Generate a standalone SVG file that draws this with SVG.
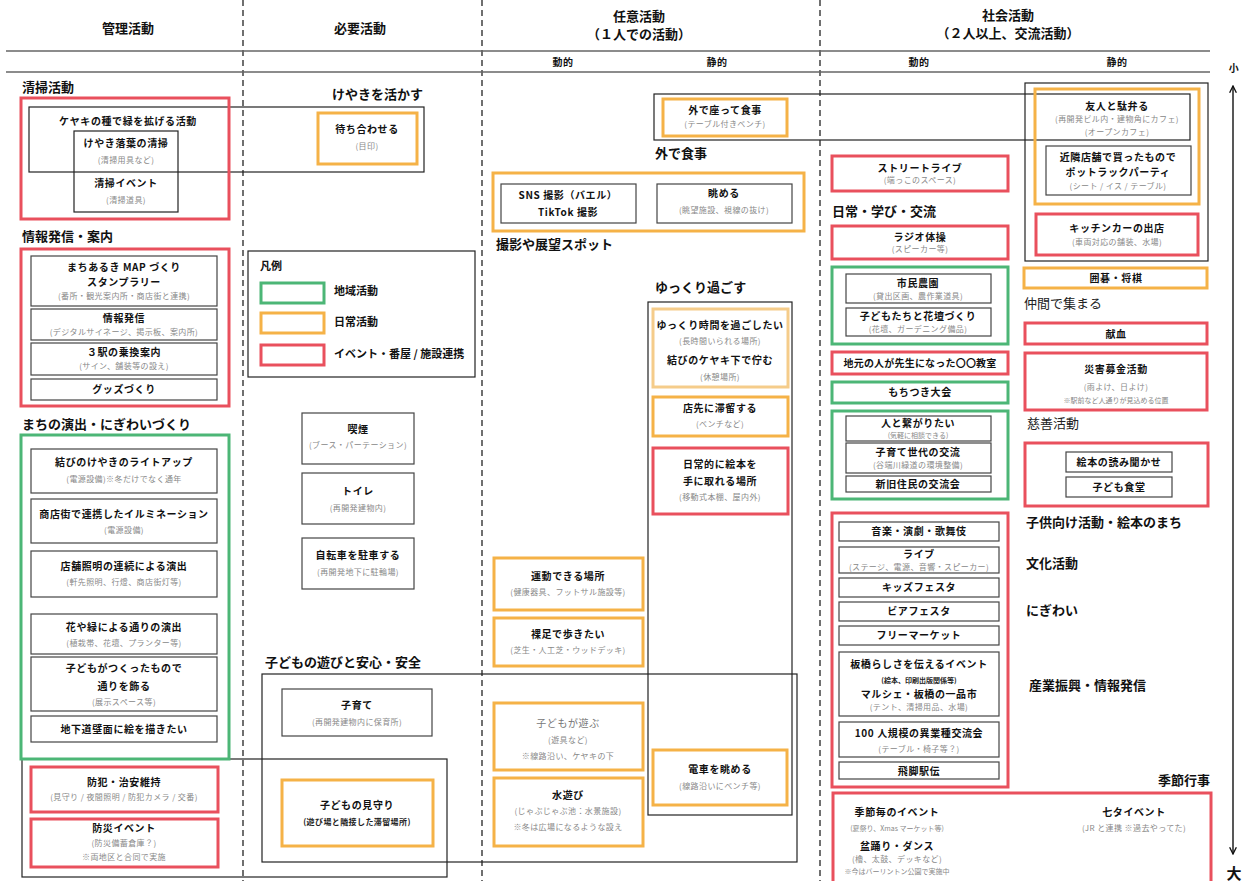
<svg xmlns="http://www.w3.org/2000/svg" width="1248" height="881" viewBox="0 0 1248 881">
<defs>
<style>
text{font-family:"Noto Sans CJK JP","Noto Sans",sans-serif}
.h{font-size:13px;font-weight:700;fill:#111}
.hc{font-size:13px;font-weight:700;fill:#111;text-anchor:middle}
.hn{font-size:13px;font-weight:400;fill:#222}
.t{font-size:10px;font-weight:700;fill:#111;text-anchor:middle;letter-spacing:0.6px}
.s{font-size:8px;fill:#888;text-anchor:middle;letter-spacing:0.4px}
.xs{font-size:7px;fill:#888;text-anchor:middle}
.lg{font-size:11px;font-weight:700;fill:#111}
.bx{fill:none;stroke:#444;stroke-width:1.2}
.bn{fill:none;stroke:#222;stroke-width:1.2}
.r{fill:none;stroke:#E9505D;stroke-width:3}
.g{fill:none;stroke:#4CB676;stroke-width:3}
.o{fill:none;stroke:#F5B247;stroke-width:3}
.po{fill:none;stroke:#F5CC8A;stroke-width:3}
.dash{stroke:#111;stroke-width:1.2;stroke-dasharray:6 4}
.hl{stroke:#666;stroke-width:1.5}
</style>
<marker id="ah" viewBox="0 0 10 10" refX="9" refY="5" markerWidth="6" markerHeight="6" orient="auto-start-reverse"><path d="M1,1 L9,5 L1,9" fill="none" stroke="#111" stroke-width="1.6"/></marker>
</defs>
<rect width="1248" height="881" fill="#fff"/>

<g id="frame">
<line class="dash" x1="243" y1="0" x2="243" y2="881"/>
<line class="dash" x1="482" y1="0" x2="482" y2="881"/>
<line class="dash" x1="820" y1="0" x2="820" y2="881"/>
<line class="hl" x1="6" y1="51" x2="1210" y2="51"/>
<line class="hl" x1="6" y1="72" x2="1210" y2="72"/>
<text class="hc" x="128" y="33">管理活動</text>
<text class="hc" x="360" y="33">必要活動</text>
<text class="hc" x="639" y="21">任意活動</text>
<text class="hc" x="639" y="39">（１人での活動）</text>
<text class="hc" x="1008" y="20">社会活動</text>
<text class="hc" x="1008" y="38">（２人以上、交流活動）</text>
<text class="t" x="563" y="66">動的</text>
<text class="t" x="717" y="66">静的</text>
<text class="t" x="919" y="66">動的</text>
<text class="t" x="1117" y="66">静的</text>
<text class="t" x="1234" y="72">小</text>
<text class="hc" x="1234" y="879" style="font-size:15px">大</text>
</g>

<g id="labels">
<text class="h" x="22" y="92">清掃活動</text>
<text class="h" x="22" y="241">情報発信・案内</text>
<text class="h" x="22" y="429">まちの演出・にぎわいづくり</text>
<text class="h" x="332" y="99">けやきを活かす</text>
<text class="h" x="265" y="667">子どもの遊びと安心・安全</text>
<text class="h" x="655" y="158">外で食事</text>
<text class="h" x="496" y="249">撮影や展望スポット</text>
<text class="h" x="655" y="292">ゆっくり過ごす</text>
<text class="h" x="832" y="216">日常・学び・交流</text>
<text class="hn" x="1024" y="308">仲間で集まる</text>
<text class="hn" x="1027" y="428">慈善活動</text>
<text class="h" x="1026" y="527">子供向け活動・絵本のまち</text>
<text class="h" x="1026" y="568">文化活動</text>
<text class="h" x="1026" y="615">にぎわい</text>
<text class="h" x="1029" y="690">産業振興・情報発信</text>
<text class="h" x="1210" y="785" text-anchor="end">季節行事</text>
</g>

<g id="group-frames">
<rect class="bn" x="29" y="107" width="395" height="65"/>
<rect class="bn" x="654" y="94" width="536" height="46"/>
<rect class="bn" x="1025" y="83" width="183" height="178"/>
<rect class="bn" x="648" y="302" width="144" height="513"/>
<rect class="bn" x="262" y="674" width="535" height="188"/>
<rect class="bn" x="22" y="759" width="425" height="118"/>
</g>

<g id="n-seisou">
<rect class="r" x="21" y="98" width="208" height="121"/>
<text class="t" x="128" y="125">ケヤキの種で緑を拡げる活動</text>
<rect class="bn" x="74" y="131" width="104" height="81"/>
<text class="t" x="126" y="147">けやき落葉の清掃</text>
<text class="s" x="126" y="163">(清掃用具など)</text>
<text class="t" x="126" y="187">清掃イベント</text>
<text class="s" x="126" y="203">(清掃道具)</text>
</g>

<g id="n-machiawase">
<rect class="o" x="318" y="113" width="99" height="51"/>
<text class="t" x="367" y="133">待ち合わせる</text>
<text class="s" x="367" y="149">(目印)</text>
</g>

<g id="n-jouhou">
<rect class="r" x="21" y="249" width="208" height="157"/>
<rect class="bx" x="31" y="256" width="186" height="50"/>
<text class="t" x="124" y="271">まちあるき MAP づくり</text>
<text class="t" x="124" y="286">スタンプラリー</text>
<text class="s" x="124" y="299">(番所・観光案内所・商店街と連携)</text>
<rect class="bx" x="31" y="309" width="186" height="31"/>
<text class="t" x="124" y="322">情報発信</text>
<text class="s" x="124" y="335">(デジタルサイネージ、掲示板、案内所)</text>
<rect class="bx" x="31" y="343" width="186" height="32"/>
<text class="t" x="124" y="356">３駅の乗換案内</text>
<text class="s" x="124" y="369">(サイン、舗装等の設え)</text>
<rect class="bx" x="31" y="379" width="186" height="21"/>
<text class="t" x="124" y="393">グッズづくり</text>
</g>

<g id="n-enshutsu">
<rect class="g" x="21" y="435" width="208" height="324"/>
<rect class="bx" x="31" y="449" width="186" height="44"/>
<text class="t" x="124" y="466">結びのけやきのライトアップ</text>
<text class="s" x="124" y="482">(電源設備)※冬だけでなく通年</text>
<rect class="bx" x="31" y="499" width="186" height="44"/>
<text class="t" x="124" y="518">商店街で連携したイルミネーション</text>
<text class="s" x="124" y="533">(電源設備)</text>
<rect class="bx" x="31" y="551" width="186" height="46"/>
<text class="t" x="124" y="570">店舗照明の連続による演出</text>
<text class="s" x="124" y="585">(軒先照明、行燈、商店街灯等)</text>
<rect class="bx" x="31" y="614" width="186" height="40"/>
<text class="t" x="124" y="631">花や緑による通りの演出</text>
<text class="s" x="124" y="646">(植栽帯、花壇、プランター等)</text>
<rect class="bx" x="31" y="657" width="186" height="54"/>
<text class="t" x="124" y="672">子どもがつくったもので</text>
<text class="t" x="124" y="690">通りを飾る</text>
<text class="s" x="124" y="705">(展示スペース等)</text>
<rect class="bx" x="31" y="716" width="186" height="26"/>
<text class="t" x="124" y="733">地下道壁面に絵を描きたい</text>
</g>

<g id="n-bouhan">
<rect class="r" x="31" y="767" width="187" height="45"/>
<text class="t" x="124" y="786">防犯・治安維持</text>
<text class="s" x="124" y="800">(見守り / 夜間照明 / 防犯カメラ / 交番)</text>
</g>
<g id="n-bousai">
<rect class="r" x="31" y="819" width="187" height="48"/>
<text class="t" x="124" y="832">防災イベント</text>
<text class="s" x="124" y="846">(防災備蓄倉庫？)</text>
<text class="s" x="124" y="860">※両地区と合同で実施</text>
</g>

<g id="legend">
<rect class="bn" x="248" y="251" width="227" height="126"/>
<text class="lg" x="260" y="270">凡例</text>
<rect class="g" x="261" y="283" width="63" height="20"/>
<rect class="o" x="261" y="313" width="63" height="20"/>
<rect class="r" x="261" y="345" width="63" height="20"/>
<text class="lg" x="334" y="295">地域活動</text>
<text class="lg" x="334" y="326">日常活動</text>
<text class="lg" x="334" y="358">イベント・番屋 / 施設連携</text>
</g>

<g id="n-kitsuen">
<rect class="bx" x="302" y="413" width="112" height="51"/>
<text class="t" x="358" y="433">喫煙</text>
<text class="s" x="358" y="448">(ブース・パーテーション)</text>
</g>
<g id="n-toilet">
<rect class="bx" x="302" y="473" width="112" height="51"/>
<text class="t" x="358" y="495">トイレ</text>
<text class="s" x="358" y="511">(再開発建物内)</text>
</g>
<g id="n-jitensha">
<rect class="bx" x="302" y="538" width="112" height="51"/>
<text class="t" x="358" y="559">自転車を駐車する</text>
<text class="s" x="358" y="575">(再開発地下に駐輪場)</text>
</g>
<g id="n-kosodate">
<rect class="bx" x="282" y="689" width="150" height="47"/>
<text class="t" x="357" y="709">子育て</text>
<text class="s" x="357" y="725">(再開発建物内に保育所)</text>
</g>
<g id="n-mimamori">
<rect class="o" x="282" y="780" width="151" height="66"/>
<text class="t" x="357" y="809">子どもの見守り</text>
<text class="s" x="357" y="825" style="fill:#222;font-weight:700">(遊び場と隣接した滞留場所)</text>
</g>

<g id="n-sotoshokuji">
<rect class="o" x="663" y="99" width="124" height="37"/>
<text class="t" x="725" y="114">外で座って食事</text>
<text class="s" x="725" y="127">(テーブル付きベンチ)</text>
</g>
<g id="n-satsuei">
<rect class="o" x="493" y="173" width="311" height="58"/>
<rect class="bx" x="501" y="184" width="135" height="39"/>
<text class="t" x="568" y="199">SNS 撮影（バエル）</text>
<text class="t" x="568" y="216">TikTok 撮影</text>
<rect class="bx" x="657" y="184" width="135" height="39"/>
<text class="t" x="724" y="197">眺める</text>
<text class="s" x="724" y="213">(眺望施設、視線の抜け)</text>
</g>
<g id="n-yukkuri">
<rect class="po" x="653" y="309" width="135" height="78"/>
<text class="t" x="720" y="329">ゆっくり時間を過ごしたい</text>
<text class="s" x="720" y="344">(長時間いられる場所)</text>
<text class="t" x="720" y="364">結びのケヤキ下で佇む</text>
<text class="s" x="720" y="380">(休憩場所)</text>
</g>
<g id="n-misesaki">
<rect class="o" x="653" y="397" width="135" height="39"/>
<text class="t" x="720" y="412">店先に滞留する</text>
<text class="s" x="720" y="427">(ベンチなど)</text>
</g>
<g id="n-ehon">
<rect class="r" x="653" y="448" width="135" height="66"/>
<text class="t" x="720" y="468">日常的に絵本を</text>
<text class="t" x="720" y="485">手に取れる場所</text>
<text class="s" x="720" y="500">(移動式本棚、屋内外)</text>
</g>
<g id="n-undou">
<rect class="o" x="494" y="558" width="149" height="52"/>
<text class="t" x="568" y="580">運動できる場所</text>
<text class="s" x="568" y="595">(健康器具、フットサル施設等)</text>
</g>
<g id="n-hadashi">
<rect class="o" x="494" y="618" width="149" height="48"/>
<text class="t" x="568" y="638">裸足で歩きたい</text>
<text class="s" x="568" y="653">(芝生・人工芝・ウッドデッキ)</text>
</g>
<g id="n-asobu">
<rect class="o" x="494" y="703" width="149" height="67"/>
<text class="t" x="568" y="727" style="fill:#777;font-weight:400">子どもが遊ぶ</text>
<text class="s" x="568" y="743">(遊具など)</text>
<text class="s" x="568" y="759">※線路沿い、ケヤキの下</text>
</g>
<g id="n-mizuasobi">
<rect class="o" x="494" y="778" width="149" height="68"/>
<text class="t" x="568" y="799">水遊び</text>
<text class="s" x="568" y="814">(じゃぶじゃぶ池：水景施設)</text>
<text class="s" x="568" y="830">※冬は広場になるような設え</text>
</g>
<g id="n-densha">
<rect class="o" x="653" y="750" width="134" height="55"/>
<text class="t" x="720" y="773">電車を眺める</text>
<text class="s" x="720" y="789">(線路沿いにベンチ等)</text>
</g>

<g id="n-yujin">
<rect class="o" x="1035" y="89" width="164" height="115"/>
<text class="t" x="1117" y="110">友人と駄弁る</text>
<text class="s" x="1117" y="122">(再開発ビル内・建物角にカフェ)</text>
<text class="s" x="1117" y="135">(オープンカフェ)</text>
<rect class="bx" x="1046" y="146" width="145" height="49"/>
<text class="t" x="1118" y="161">近隣店舗で買ったもので</text>
<text class="t" x="1118" y="176">ポットラックパーティ</text>
<text class="s" x="1118" y="189">(シート / イス / テーブル)</text>
</g>
<g id="n-kitchencar">
<rect class="r" x="1036" y="214" width="162" height="41"/>
<text class="t" x="1117" y="232">キッチンカーの出店</text>
<text class="s" x="1117" y="245">(車両対応の舗装、水場)</text>
</g>
<g id="n-streetlive">
<rect class="r" x="832" y="156" width="176" height="35"/>
<text class="t" x="920" y="172">ストリートライブ</text>
<text class="s" x="920" y="183">(端っこのスペース)</text>
</g>
<g id="n-radio">
<rect class="r" x="832" y="226" width="176" height="33"/>
<text class="t" x="920" y="241">ラジオ体操</text>
<text class="s" x="920" y="252">(スピーカー等)</text>
</g>
<g id="n-nouen">
<rect class="g" x="832" y="267" width="176" height="77"/>
<rect class="bx" x="846" y="274" width="145" height="29"/>
<text class="t" x="918" y="287">市民農園</text>
<text class="s" x="918" y="299">(貸出区画、農作業道具)</text>
<rect class="bx" x="846" y="308" width="145" height="28"/>
<text class="t" x="918" y="320">子どもたちと花壇づくり</text>
<text class="s" x="918" y="332">(花壇、ガーデニング備品)</text>
</g>
<g id="n-kyoushitsu">
<rect class="r" x="832" y="352" width="176" height="22"/>
<text class="t" x="920" y="367" style="letter-spacing:0.2px">地元の人が先生になった〇〇教室</text>
</g>
<g id="n-mochitsuki">
<rect class="g" x="832" y="382" width="176" height="21"/>
<text class="t" x="920" y="396">もちつき大会</text>
</g>
<g id="n-tsunagari">
<rect class="g" x="832" y="411" width="176" height="88"/>
<rect class="bx" x="846" y="416" width="145" height="25"/>
<text class="t" x="918" y="427">人と繋がりたい</text>
<text class="xs" x="918" y="438">(気軽に相談できる)</text>
<rect class="bx" x="846" y="443" width="145" height="30"/>
<text class="t" x="918" y="456">子育て世代の交流</text>
<text class="s" x="918" y="468">(谷端川緑道の環境整備)</text>
<rect class="bx" x="846" y="476" width="145" height="16"/>
<text class="t" x="918" y="488">新旧住民の交流会</text>
</g>
<g id="n-events">
<rect class="r" x="832" y="513" width="176" height="274"/>
<rect class="bx" x="839" y="522" width="160" height="19"/>
<text class="t" x="919" y="535">音楽・演劇・歌舞伎</text>
<rect class="bx" x="839" y="547" width="160" height="26"/>
<text class="t" x="919" y="558">ライブ</text>
<text class="s" x="919" y="570">(ステージ、電源、音響・スピーカー)</text>
<rect class="bx" x="839" y="578" width="160" height="19"/>
<text class="t" x="919" y="591">キッズフェスタ</text>
<rect class="bx" x="839" y="602" width="160" height="19"/>
<text class="t" x="919" y="615">ビアフェスタ</text>
<rect class="bx" x="839" y="626" width="160" height="19"/>
<text class="t" x="919" y="639">フリーマーケット</text>
<rect class="bx" x="839" y="652" width="160" height="64"/>
<text class="t" x="919" y="668">板橋らしさを伝えるイベント</text>
<text class="xs" x="919" y="683" style="fill:#222;font-weight:700">(絵本、印刷出版関係等)</text>
<text class="t" x="919" y="698">マルシェ・板橋の一品市</text>
<text class="s" x="919" y="710">(テント、清掃用品、水場)</text>
<rect class="bx" x="839" y="722" width="160" height="35"/>
<text class="t" x="919" y="737">100 人規模の異業種交流会</text>
<text class="s" x="919" y="752">(テーブル・椅子等？)</text>
<rect class="bx" x="839" y="762" width="160" height="17"/>
<text class="t" x="919" y="775">飛脚駅伝</text>
</g>
<g id="n-igo">
<rect class="o" x="1024" y="268" width="183" height="20"/>
<text class="t" x="1116" y="282">囲碁・将棋</text>
</g>
<g id="n-kenketsu">
<rect class="r" x="1025" y="323" width="182" height="21"/>
<text class="t" x="1116" y="338">献血</text>
</g>
<g id="n-bokin">
<rect class="r" x="1025" y="353" width="182" height="57"/>
<text class="t" x="1116" y="373">災害募金活動</text>
<text class="s" x="1116" y="390">(雨よけ、日よけ)</text>
<text class="xs" x="1116" y="403">※駅前など人通りが見込める位置</text>
</g>
<g id="n-kodomo">
<rect class="r" x="1025" y="443" width="183" height="63"/>
<rect class="bx" x="1066" y="452" width="106" height="20"/>
<text class="t" x="1119" y="466">絵本の読み聞かせ</text>
<rect class="bx" x="1066" y="477" width="106" height="20"/>
<text class="t" x="1119" y="491">子ども食堂</text>
</g>
<g id="n-kisetsu">
<rect class="r" x="833" y="793" width="378" height="100"/>
<text class="t" x="897" y="816">季節毎のイベント</text>
<text class="xs" x="897" y="831">(夏祭り、Xmas マーケット等)</text>
<text class="t" x="897" y="850">盆踊り・ダンス</text>
<text class="s" x="897" y="862">(櫓、太鼓、デッキなど)</text>
<text class="xs" x="897" y="874">※今はバーリントン公園で実施中</text>
<text class="t" x="1134" y="816">七タイベント</text>
<text class="s" x="1134" y="831">(JR と連携 ※過去やってた)</text>
</g>

<g id="connectors">
<line x1="1233" y1="86" x2="1233" y2="854" stroke="#111" stroke-width="1.4" marker-start="url(#ah)" marker-end="url(#ah)"/>
</g>
</svg>
